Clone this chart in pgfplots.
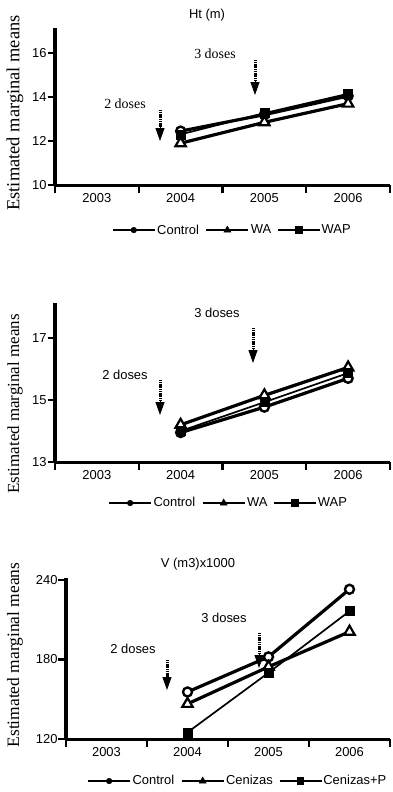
\documentclass[border=0pt]{standalone}
\usepackage{pgfplots}
\pgfplotsset{compat=1.18}
\usepackage{fontspec}
\setmainfont{Liberation Sans}
\newfontfamily\seriffont{Liberation Serif}
\usetikzlibrary{arrows.meta}

\pgfplotsset{
 panel/.style={
  scale only axis, anchor=south west,
  xmin=-0.5, xmax=3.5,
  axis x line*=bottom, axis y line*=left,
  axis line style={line width=3bp, -},
  xtick={-0.5,0.5,1.5,2.5,3.5}, xticklabels={2003,2004,2005,2006,},
  tick align=outside,
  major tick length=7.5bp,
  tick style={line width=2.4bp, black},
  ticklabel style={font=\fontsize{13}{15}\selectfont},
  yticklabel style={xshift=2.5bp},
  /pgf/number format/assume math mode=true,
  legend columns=3,
  legend style={draw=none, fill=none, anchor=center, font=\fontsize{13}{15}\selectfont, inner sep=0pt,
    nodes={inner sep=1bp},
    /tikz/every even column/.append style={column sep=5bp}},
  legend image code/.code={\draw[##1,mark=none] (0bp,0bp) -- (42bp,0bp); \draw[##1, only marks] plot coordinates {(21bp,0bp)};},
 },
 ctrl/.style={black, line width=3.2bp, mark=*, mark size=4.5bp, mark options={fill=white, line width=2.4bp}},
 wa/.style={black, line width=3.2bp, mark=triangle*, mark size=6bp, mark options={fill=white, line width=2.2bp}},
 wap/.style={black, line width=1.7bp, mark=square*, mark size=4.5bp, mark options={fill=black, line width=0.5bp}},
 ctrlL/.style={black, line width=2.8bp, mark=*, mark size=2.8bp, mark options={fill=black, line width=0.5bp}},
 waL/.style={black, line width=2.8bp, mark=triangle*, mark size=4bp, mark options={fill=black, line width=0.5bp}},
 wapL/.style={black, line width=1.5bp, mark=square*, mark size=3bp, mark options={fill=black}},
}
\tikzset{doses/.style={line width=3bp, dash pattern=on 1.2bp off 0.6bp},
 head/.style={-{Triangle[width=9bp,length=13bp]}, line width=1bp},
 tk/.style={line width=2.4bp, black}}

\begin{document}
\begin{tikzpicture}
\useasboundingbox (0,0) rectangle (393bp,-792bp);

% ---------- Panel 1 ----------
\begin{axis}[panel, at={(55bp,-185bp)}, width=335bp, height=157bp,
  ymin=10, ymax=17.14, ytick={10,12,14,16},
  xticklabel style={xshift=41.9bp, yshift=2.5bp},
  legend style={at={(axis description cs:0.527,-0.287)}}]
\addlegendimage{ctrlL}\addlegendentry{Control}
\addlegendimage{waL}\addlegendentry{WA}
\addlegendimage{wapL}\addlegendentry{WAP}
\addplot[ctrl, forget plot] coordinates {(1,12.45) (2,13.2) (3,14.05)};
\addplot[wa, forget plot] coordinates {(1,11.9) (2,12.85) (3,13.7)};
\addplot[wap, forget plot] coordinates {(1,12.3) (2,13.27) (3,14.15)};
\end{axis}
\foreach \x in {55,138.75,222.5,306.25,390} \draw[tk] (\x bp,-185bp) -- (\x bp,-192.5bp);
\foreach \y in {185,141,97,53} \draw[tk] (55bp,-\y bp) -- (47.5bp,-\y bp);
\node[font=\fontsize{13}{15}\selectfont] at (207bp,-15bp) {Ht (m)};
\node[font=\seriffont\fontsize{14}{16}\selectfont] at (125bp,-104bp) {2 doses};
\node[font=\seriffont\fontsize{14}{16}\selectfont] at (215bp,-54bp) {3 doses};
\draw[doses] (160bp,-110bp) -- (160bp,-128bp);
\draw[head] (160bp,-127bp) -- (160bp,-141bp);
\draw[doses] (255bp,-60bp) -- (255bp,-82bp);
\draw[head] (255bp,-81bp) -- (255bp,-95bp);
\node[rotate=90, font=\seriffont\fontsize{18.5}{20}\selectfont] at (15bp,-113bp) {Estimated marginal means};

% ---------- Panel 2 ----------
\begin{axis}[panel, at={(55bp,-462bp)}, width=335bp, height=159bp,
  ymin=13, ymax=18.13, ytick={13,15,17},
  xticklabel style={xshift=41.9bp, yshift=2.5bp},
  legend style={at={(axis description cs:0.516,-0.258)}}]
\addlegendimage{ctrlL}\addlegendentry{Control}
\addlegendimage{waL}\addlegendentry{WA}
\addlegendimage{wapL}\addlegendentry{WAP}
\addplot[ctrl, forget plot] coordinates {(1,13.95) (2,14.77) (3,15.7)};
\addplot[wa, forget plot] coordinates {(1,14.2) (2,15.15) (3,16.05)};
\addplot[wap, forget plot] coordinates {(1,14.0) (2,14.93) (3,15.87)};
\end{axis}
\foreach \x in {55,138.75,222.5,306.25,390} \draw[tk] (\x bp,-462bp) -- (\x bp,-469.5bp);
\foreach \y in {462,400,338} \draw[tk] (55bp,-\y bp) -- (47.5bp,-\y bp);
\node[font=\fontsize{13}{15}\selectfont] at (125bp,-375bp) {2 doses};
\node[font=\fontsize{13}{15}\selectfont] at (217bp,-313bp) {3 doses};
\draw[doses] (160bp,-380bp) -- (160bp,-402bp);
\draw[head] (160bp,-401bp) -- (160bp,-415bp);
\draw[doses] (253bp,-328bp) -- (253bp,-350bp);
\draw[head] (253bp,-349bp) -- (253bp,-363bp);
\node[rotate=90, font=\seriffont\fontsize{17}{19}\selectfont] at (15bp,-404bp) {Estimated marginal means};

% ---------- Panel 3 ----------
\begin{axis}[panel, at={(66bp,-739bp)}, width=324bp, height=161bp,
  ymin=120, ymax=241.5, ytick={120,180,240},
  xticklabel style={xshift=40.5bp, yshift=2.5bp},
  legend style={at={(axis description cs:0.528,-0.261)}}]
\addlegendimage{ctrlL}\addlegendentry{Control}
\addlegendimage{waL}\addlegendentry{Cenizas}
\addlegendimage{wapL}\addlegendentry{Cenizas+P}
\addplot[ctrl, forget plot] coordinates {(1,155.5) (2,182) (3,233)};
\addplot[wa, forget plot] coordinates {(1,146.5) (2,174.5) (3,201)};
\addplot[wap, forget plot] coordinates {(1,125) (2,170) (3,216.5)};
\end{axis}
\foreach \x in {66,147,228,309,390} \draw[tk] (\x bp,-739bp) -- (\x bp,-746.5bp);
\foreach \y in {739,659.5,580} \draw[tk] (66bp,-\y bp) -- (58.5bp,-\y bp);
\node[font=\fontsize{13}{15}\selectfont] at (198bp,-564bp) {V (m3)x1000};
\node[font=\fontsize{13}{15}\selectfont] at (133bp,-649bp) {2 doses};
\node[font=\fontsize{13}{15}\selectfont] at (224bp,-618bp) {3 doses};
\draw[doses] (167bp,-660bp) -- (167bp,-677bp);
\draw[head] (167bp,-676bp) -- (167bp,-690bp);
\draw[doses] (259bp,-633bp) -- (259bp,-655bp);
\draw[head] (259bp,-654bp) -- (259bp,-668bp);
\node[rotate=90, font=\seriffont\fontsize{17.5}{19}\selectfont] at (15bp,-655bp) {Estimated marginal means};
\end{tikzpicture}
\end{document}
